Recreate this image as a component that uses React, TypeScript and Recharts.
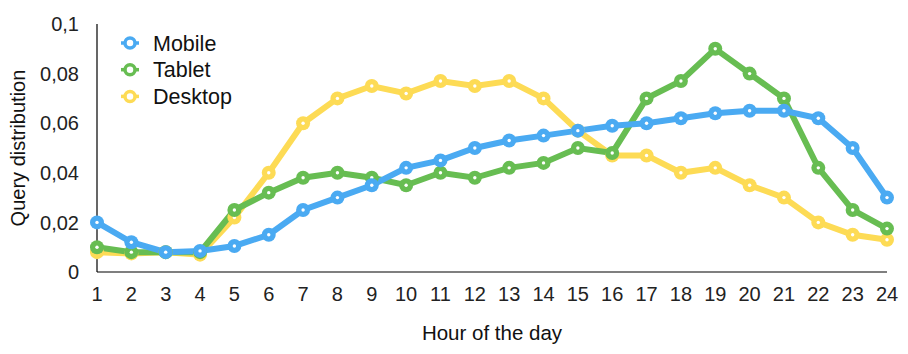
import React from 'react';
import { LineChart, Line, XAxis, YAxis, Legend, Label } from 'recharts';

const hours = [1, 2, 3, 4, 5, 6, 7, 8, 9, 10, 11, 12, 13, 14, 15, 16, 17, 18, 19, 20, 21, 22, 23, 24];

const mobile = [0.02, 0.012, 0.008, 0.0085, 0.0105, 0.015, 0.025, 0.03, 0.035, 0.042, 0.045, 0.05, 0.053, 0.055, 0.057, 0.059, 0.06, 0.062, 0.064, 0.065, 0.065, 0.062, 0.05, 0.03];
const tablet = [0.01, 0.008, 0.008, 0.008, 0.025, 0.032, 0.038, 0.04, 0.038, 0.035, 0.04, 0.038, 0.042, 0.044, 0.05, 0.048, 0.07, 0.077, 0.09, 0.08, 0.07, 0.042, 0.025, 0.0175];
const desktop = [0.008, 0.0075, 0.008, 0.007, 0.022, 0.04, 0.06, 0.07, 0.075, 0.072, 0.077, 0.075, 0.077, 0.07, 0.057, 0.047, 0.047, 0.04, 0.042, 0.035, 0.03, 0.02, 0.015, 0.013];

const yTicks = [0, 0.02, 0.04, 0.06, 0.08, 0.1];

const series = [
  { key: 'mobile', name: 'Mobile', color: '#4aaaf2' },
  { key: 'tablet', name: 'Tablet', color: '#67bd52' },
  { key: 'desktop', name: 'Desktop', color: '#fddb55' },
];

const data = hours.map((h, i) => ({ hour: h, mobile: mobile[i], tablet: tablet[i], desktop: desktop[i] }));

const FONT = '"Liberation Sans", Arial, sans-serif';

const Dot = (props: any) => {
  const { cx, cy, stroke } = props;
  if (cx == null || cy == null) return null;
  return (
    <g>
      <circle cx={cx} cy={cy} r={7} fill={stroke} />
      <circle cx={cx} cy={cy} r={1.7} fill="#fff" />
    </g>
  );
};

const LegendContent = () => (
  <svg width={150} height={80} style={{ overflow: 'visible' }}>
    {series.map((s, i) => (
      <g key={s.key} transform={`translate(0, ${i * 26.7})`}>
        <line x1={1} x2={19} y1={10} y2={10} stroke={s.color} strokeWidth={3.5} />
        <circle cx={10} cy={10} r={5} fill="#fff" stroke={s.color} strokeWidth={3.5} />
        <text x={33} y={17.5} fontSize={21.5} fontFamily={FONT} fill="#111">{s.name}</text>
      </g>
    ))}
  </svg>
);

export default function App() {
  return (
    <div style={{ position: 'absolute', left: 0, top: 0, background: '#fff' }}>
      <LineChart width={908} height={354} data={data} margin={{ top: 24, right: 21, left: 0, bottom: 0 }}>
        <XAxis
          dataKey="hour"
          type="number"
          domain={[1, 24]}
          ticks={hours}
          interval={0}
          height={82}
          tickLine={false}
          axisLine={{ stroke: '#000', strokeWidth: 1.2 }}
          tick={{ fontSize: 20, fontFamily: FONT, fill: '#222' }}
          tickMargin={9}
        >
          <Label value="Hour of the day" position="insideBottom" offset={14} style={{ fontSize: 20.5, fontFamily: FONT, fill: '#111' }} />
        </XAxis>
        <YAxis
          type="number"
          domain={[0, 0.1]}
          ticks={yTicks}
          width={97}
          tickLine={false}
          axisLine={{ stroke: '#000', strokeWidth: 1.2 }}
          tick={{ fontSize: 20, fontFamily: FONT, fill: '#222' }}
          tickMargin={12}
          tickFormatter={(v: number) => String(v).replace('.', ',')}
        >
          <Label value="Query distribution" angle={-90} position="insideLeft" offset={18} style={{ fontSize: 20, fontFamily: FONT, fill: '#111', textAnchor: 'middle' }} />
        </YAxis>
        <Legend
          layout="vertical"
          align="center"
          verticalAlign="middle"
          wrapperStyle={{ left: 120, top: 33, width: 150 }}
          content={<LegendContent />}
        />
        {[...series].reverse().map((s) => (
          <Line
            key={s.key}
            type="linear"
            dataKey={s.key}
            name={s.name}
            stroke={s.color}
            strokeWidth={6}
            dot={<Dot />}
            activeDot={false}
            isAnimationActive={false}
          />
        ))}
      </LineChart>
    </div>
  );
}
